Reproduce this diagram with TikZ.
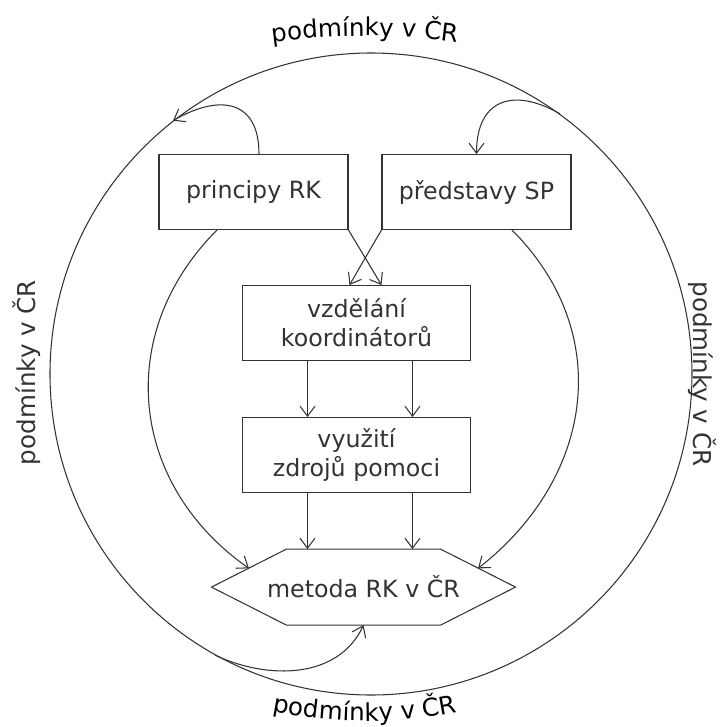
\documentclass[tikz,border=0pt]{standalone}
\usepackage{fontspec}
\setmainfont{DejaVu Sans}
\usetikzlibrary{positioning,arrows.meta,decorations.text}

\newcommand\condfont{\fontsize{14}{16}\selectfont}

\begin{document}
\begin{tikzpicture}[line width=0.6pt, color=black!80,
        >={Straight Barb[length=2mm,width=3mm]},
        font=\fontsize{13.5}{16.5}\selectfont,
        block/.style = {draw, rectangle, minimum width=3.78cm, minimum height=1.5cm, inner sep=0pt, align=center},
        wide/.style = {block, minimum width=4.55cm},
        cond label/.style = {font=\condfont}]

    \useasboundingbox (-7.42,-7.06) rectangle (7.12,7.48);

    % Outer circle
    \node[draw, circle, minimum size=12.84cm, inner sep=0pt] (cond) at (0,0) {};

    % Circle labels
    \path[decorate, decoration={text along path, text align=center, text={|\condfont|podmínky v ČR}}]
        ([shift={(100:14)}]-0.12,-7.24) arc (100:80:14);
    \path[decorate, decoration={text along path, text align=center, text={|\condfont|podmínky v ČR}}]
        ([shift={(256:9.5)}]-0.12,2.56) arc (256:284:9.5);
    \node[cond label, rotate=90, anchor=base] (condW) at (-6.71,0.03) {podmínky v ČR};
    \node[cond label, rotate=-90, anchor=base] (condE) at (6.46,0) {podmínky v ČR};

    % Boxes
    \node[block] (principy) at (-2.35,3.64) {principy RK};
    \node[block] (predstavy) at (2.11,3.64) {představy SP};
    \node[wide] (vzdel) at (-0.29,1.02) {vzdělání\\koordinátorů};
    \node[wide, below=1.12cm of vzdel] (vyuz) {využití\\zdrojů pomoci};

    % Hexagon
    \node[minimum width=6.06cm, minimum height=1.5cm, inner sep=0pt,
          below=1.12cm of vyuz, xshift=0.14cm] (metoda) {metoda RK v ČR};
    \draw (metoda.west) -- ([xshift=1.5cm]metoda.north west) -- ([xshift=-1.5cm]metoda.north east)
        -- (metoda.east) -- ([xshift=-1.5cm]metoda.south east) -- ([xshift=1.5cm]metoda.south west) -- cycle;

    % Crossing arrows
    \draw[->] (principy.south east) -- ([xshift=0.5cm]vzdel.north);
    \draw[->] (predstavy.south west) -- ([xshift=-0.14cm]vzdel.north);

    % Down the middle
    \draw[->] ([xshift=-0.98cm]vzdel.south) -- ([xshift=-0.98cm]vyuz.north);
    \draw[->] ([xshift=1.12cm]vzdel.south) -- ([xshift=1.12cm]vyuz.north);
    \draw[->] ([xshift=-0.98cm]vyuz.south) -- ([xshift=-1.12cm]metoda.north);
    \draw[->] ([xshift=1.12cm]vyuz.south) -- ([xshift=0.98cm]metoda.north);

    % Side curves
    \draw[->] ([xshift=-0.73cm]principy.south) to[out=225, in=145, looseness=1.1] ([shift={(0.75,0.375)}]metoda.west);
    \draw[->] ([xshift=0.71cm]predstavy.south) to[out=-45, in=38, looseness=1.1] ([shift={(-0.75,0.375)}]metoda.east);

    % Loops with the circle
    \draw[->] ([xshift=0.11cm]principy.north) to[out=90, in=30, looseness=1.5] (cond.128);
    \draw[->] (cond.54) to[out=150, in=90, looseness=1.5] (predstavy.north);
    \draw[->] (cond.241) to[out=-25, in=245] (metoda.south);

\end{tikzpicture}
\end{document}
